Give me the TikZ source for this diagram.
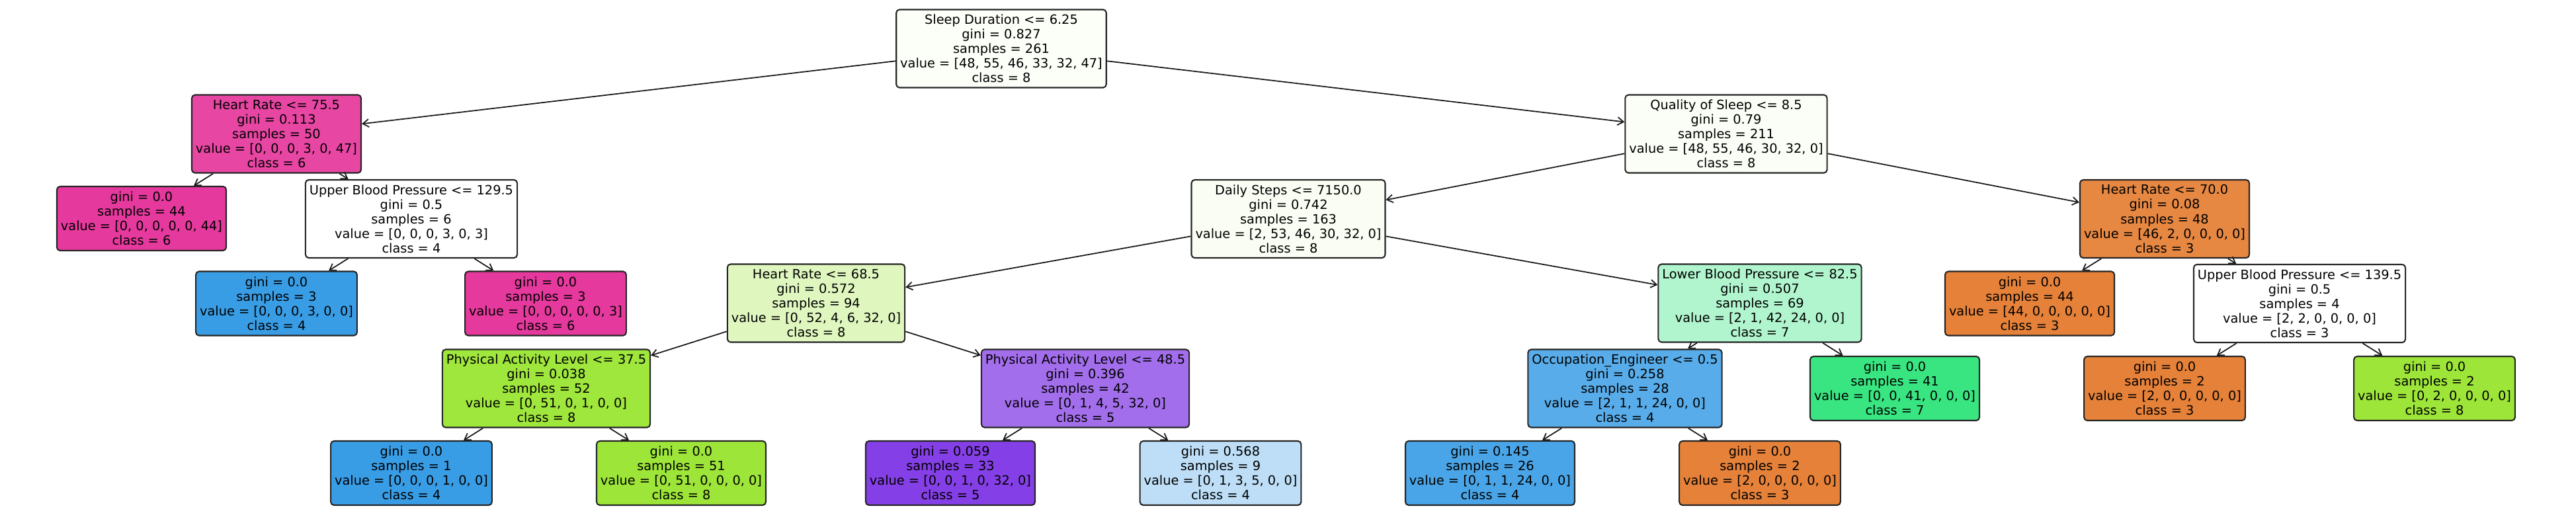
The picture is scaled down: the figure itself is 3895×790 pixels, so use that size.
\documentclass[tikz,border=0pt]{standalone}
\usepackage{fontspec}
\usetikzlibrary{arrows.meta}
\newfontfamily\dejavu{DejaVu Sans}
\newcommand\treefont{\dejavu\fontsize{5.5}{6.28}\selectfont}
\definecolor{cRoot}{RGB}{252,254,248}
\definecolor{cQos}{RGB}{251,254,246}
\definecolor{cDs}{RGB}{249,253,243}
\definecolor{cHrA}{RGB}{231,70,163}
\definecolor{cPink}{RGB}{229,57,157}
\definecolor{cBlue}{RGB}{57,157,229}
\definecolor{cOrange}{RGB}{229,129,57}
\definecolor{cYg}{RGB}{157,229,57}
\definecolor{cGreen}{RGB}{57,229,129}
\definecolor{cHrB}{RGB}{223,247,191}
\definecolor{cPalA}{RGB}{159,230,61}
\definecolor{cPalB}{RGB}{163,110,236}
\definecolor{cPurp}{RGB}{133,63,230}
\definecolor{cLblue}{RGB}{189,222,246}
\definecolor{cLbp}{RGB}{176,245,205}
\definecolor{cOcc}{RGB}{88,172,233}
\definecolor{cLeafB}{RGB}{73,165,231}
\definecolor{cHrC}{RGB}{230,135,66}
\tikzset{
  tn/.style={draw=black!85, line width=0.6pt, rounded corners=0.5mm,
    inner xsep=0.6mm, inner ysep=0pt, align=center, font=\treefont},
  inode/.style={tn, minimum height=1.18cm},
  lnode/.style={tn, minimum height=0.97cm},
  edge/.style={-{Straight Barb[length=0.9mm,width=1.2mm]}, line width=0.5pt, black!90}
}
\begin{document}
\begin{tikzpicture}[x=0.01cm,y=-0.01cm]
\useasboundingbox (0,0) rectangle (3895,790);
% level 0
\node[inode, fill=cRoot] (r) at (1514,73.5) {Sleep Duration <= 6.25\\gini = 0.827\\samples = 261\\value = [48, 55, 46, 33, 32, 47]\\class = 8};
% level 1
\node[inode, fill=cHrA] (n1) at (418,202.5) {Heart Rate <= 75.5\\gini = 0.113\\samples = 50\\value = [0, 0, 0, 3, 0, 47]\\class = 6};
\node[inode, fill=cQos] (n2) at (2610,202.5) {Quality of Sleep <= 8.5\\gini = 0.79\\samples = 211\\value = [48, 55, 46, 30, 32, 0]\\class = 8};
% level 2
\node[lnode, fill=cPink] (n3) at (214,330.5) {gini = 0.0\\samples = 44\\value = [0, 0, 0, 0, 0, 44]\\class = 6};
\node[inode, fill=white] (n4) at (622,331) {Upper Blood Pressure <= 129.5\\gini = 0.5\\samples = 6\\value = [0, 0, 0, 3, 0, 3]\\class = 4};
\node[inode, fill=cDs] (n5) at (1948,331) {Daily Steps <= 7150.0\\gini = 0.742\\samples = 163\\value = [2, 53, 46, 30, 32, 0]\\class = 8};
\node[inode, fill=cHrC] (n6) at (3273,331) {Heart Rate <= 70.0\\gini = 0.08\\samples = 48\\value = [46, 2, 0, 0, 0, 0]\\class = 3};
% level 3
\node[lnode, fill=cBlue] (n7) at (418,459) {gini = 0.0\\samples = 3\\value = [0, 0, 0, 3, 0, 0]\\class = 4};
\node[lnode, fill=cPink] (n8) at (825,459) {gini = 0.0\\samples = 3\\value = [0, 0, 0, 0, 0, 3]\\class = 6};
\node[inode, fill=cHrB] (n9) at (1234,458.5) {Heart Rate <= 68.5\\gini = 0.572\\samples = 94\\value = [0, 52, 4, 6, 32, 0]\\class = 8};
\node[inode, fill=cLbp] (n10) at (2661,458.5) {Lower Blood Pressure <= 82.5\\gini = 0.507\\samples = 69\\value = [2, 1, 42, 24, 0, 0]\\class = 7};
\node[lnode, fill=cOrange] (n11) at (3069,459) {gini = 0.0\\samples = 44\\value = [44, 0, 0, 0, 0, 0]\\class = 3};
\node[inode, fill=white] (n12) at (3477,459) {Upper Blood Pressure <= 139.5\\gini = 0.5\\samples = 4\\value = [2, 2, 0, 0, 0, 0]\\class = 3};
% level 4
\node[inode, fill=cPalA] (n13) at (826,587.5) {Physical Activity Level <= 37.5\\gini = 0.038\\samples = 52\\value = [0, 51, 0, 1, 0, 0]\\class = 8};
\node[inode, fill=cPalB] (n14) at (1641,587.5) {Physical Activity Level <= 48.5\\gini = 0.396\\samples = 42\\value = [0, 1, 4, 5, 32, 0]\\class = 5};
\node[inode, fill=cOcc] (n15) at (2457,587.5) {Occupation\_Engineer <= 0.5\\gini = 0.258\\samples = 28\\value = [2, 1, 1, 24, 0, 0]\\class = 4};
\node[lnode, fill=cGreen] (n16) at (2865,587.5) {gini = 0.0\\samples = 41\\value = [0, 0, 41, 0, 0, 0]\\class = 7};
\node[lnode, fill=cOrange] (n17) at (3273,587.5) {gini = 0.0\\samples = 2\\value = [2, 0, 0, 0, 0, 0]\\class = 3};
\node[lnode, fill=cYg] (n18) at (3681,587.5) {gini = 0.0\\samples = 2\\value = [0, 2, 0, 0, 0, 0]\\class = 8};
% level 5
\node[lnode, fill=cBlue] (n19) at (622,715.5) {gini = 0.0\\samples = 1\\value = [0, 0, 0, 1, 0, 0]\\class = 4};
\node[lnode, fill=cYg] (n20) at (1030,715.5) {gini = 0.0\\samples = 51\\value = [0, 51, 0, 0, 0, 0]\\class = 8};
\node[lnode, fill=cPurp] (n21) at (1437,715.5) {gini = 0.059\\samples = 33\\value = [0, 0, 1, 0, 32, 0]\\class = 5};
\node[lnode, fill=cLblue] (n22) at (1845.5,715.5) {gini = 0.568\\samples = 9\\value = [0, 1, 3, 5, 0, 0]\\class = 4};
\node[lnode, fill=cLeafB] (n23) at (2253,715.5) {gini = 0.145\\samples = 26\\value = [0, 1, 1, 24, 0, 0]\\class = 4};
\node[lnode, fill=cOrange] (n24) at (2661,715.5) {gini = 0.0\\samples = 2\\value = [2, 0, 0, 0, 0, 0]\\class = 3};
% edges
\draw[edge] (r) -- (n1);
\draw[edge] (r) -- (n2);
\draw[edge] (n1) -- (n3);
\draw[edge] (n1) -- (n4);
\draw[edge] (n4) -- (n7);
\draw[edge] (n4) -- (n8);
\draw[edge] (n2) -- (n5);
\draw[edge] (n2) -- (n6);
\draw[edge] (n5) -- (n9);
\draw[edge] (n5) -- (n10);
\draw[edge] (n9) -- (n13);
\draw[edge] (n9) -- (n14);
\draw[edge] (n13) -- (n19);
\draw[edge] (n13) -- (n20);
\draw[edge] (n14) -- (n21);
\draw[edge] (n14) -- (n22);
\draw[edge] (n10) -- (n15);
\draw[edge] (n10) -- (n16);
\draw[edge] (n15) -- (n23);
\draw[edge] (n15) -- (n24);
\draw[edge] (n6) -- (n11);
\draw[edge] (n6) -- (n12);
\draw[edge] (n12) -- (n17);
\draw[edge] (n12) -- (n18);
\end{tikzpicture}
\end{document}
